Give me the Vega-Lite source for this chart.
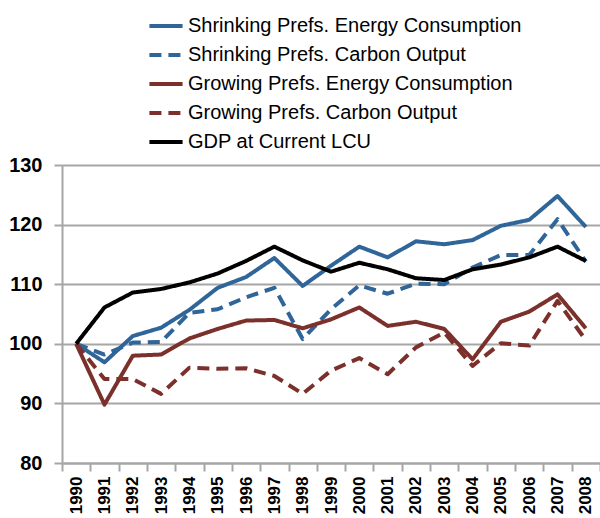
{
  "$schema": "https://vega.github.io/schema/vega-lite/v6.json",
  "autosize": {"type": "none"},
  "padding": {"left": 62, "top": 165, "right": 0, "bottom": 55},
  "width": 538,
  "height": 298,
  "background": "white",
  "config": {
    "view": {"stroke": null},
    "axis": {
      "labelFont": "Liberation Sans",
      "labelFontWeight": "bold",
      "labelColor": "black",
      "domainColor": "#A6A6A6",
      "domainWidth": 2,
      "tickColor": "#A6A6A6",
      "tickWidth": 2,
      "tickSize": 8,
      "gridColor": "#A6A6A6",
      "gridWidth": 2,
      "gridOpacity": 1,
      "title": null
    }
  },
  "data": {"values": [
    {"year": "1990", "series": "Shrinking Prefs. Energy Consumption", "value": 100},
    {"year": "1991", "series": "Shrinking Prefs. Energy Consumption", "value": 96.9},
    {"year": "1992", "series": "Shrinking Prefs. Energy Consumption", "value": 101.3},
    {"year": "1993", "series": "Shrinking Prefs. Energy Consumption", "value": 102.7},
    {"year": "1994", "series": "Shrinking Prefs. Energy Consumption", "value": 105.7},
    {"year": "1995", "series": "Shrinking Prefs. Energy Consumption", "value": 109.4},
    {"year": "1996", "series": "Shrinking Prefs. Energy Consumption", "value": 111.2},
    {"year": "1997", "series": "Shrinking Prefs. Energy Consumption", "value": 114.4},
    {"year": "1998", "series": "Shrinking Prefs. Energy Consumption", "value": 109.7},
    {"year": "1999", "series": "Shrinking Prefs. Energy Consumption", "value": 113.1},
    {"year": "2000", "series": "Shrinking Prefs. Energy Consumption", "value": 116.3},
    {"year": "2001", "series": "Shrinking Prefs. Energy Consumption", "value": 114.5},
    {"year": "2002", "series": "Shrinking Prefs. Energy Consumption", "value": 117.2},
    {"year": "2003", "series": "Shrinking Prefs. Energy Consumption", "value": 116.7},
    {"year": "2004", "series": "Shrinking Prefs. Energy Consumption", "value": 117.4},
    {"year": "2005", "series": "Shrinking Prefs. Energy Consumption", "value": 119.8},
    {"year": "2006", "series": "Shrinking Prefs. Energy Consumption", "value": 120.8},
    {"year": "2007", "series": "Shrinking Prefs. Energy Consumption", "value": 124.8},
    {"year": "2008", "series": "Shrinking Prefs. Energy Consumption", "value": 119.6},
    {"year": "1990", "series": "Shrinking Prefs. Carbon Output", "value": 100},
    {"year": "1991", "series": "Shrinking Prefs. Carbon Output", "value": 98.2},
    {"year": "1992", "series": "Shrinking Prefs. Carbon Output", "value": 100.2},
    {"year": "1993", "series": "Shrinking Prefs. Carbon Output", "value": 100.3},
    {"year": "1994", "series": "Shrinking Prefs. Carbon Output", "value": 105.2},
    {"year": "1995", "series": "Shrinking Prefs. Carbon Output", "value": 105.8},
    {"year": "1996", "series": "Shrinking Prefs. Carbon Output", "value": 107.8},
    {"year": "1997", "series": "Shrinking Prefs. Carbon Output", "value": 109.4},
    {"year": "1998", "series": "Shrinking Prefs. Carbon Output", "value": 100.8},
    {"year": "1999", "series": "Shrinking Prefs. Carbon Output", "value": 105.8},
    {"year": "2000", "series": "Shrinking Prefs. Carbon Output", "value": 109.8},
    {"year": "2001", "series": "Shrinking Prefs. Carbon Output", "value": 108.4},
    {"year": "2002", "series": "Shrinking Prefs. Carbon Output", "value": 110.1},
    {"year": "2003", "series": "Shrinking Prefs. Carbon Output", "value": 110.0},
    {"year": "2004", "series": "Shrinking Prefs. Carbon Output", "value": 112.8},
    {"year": "2005", "series": "Shrinking Prefs. Carbon Output", "value": 114.9},
    {"year": "2006", "series": "Shrinking Prefs. Carbon Output", "value": 114.9},
    {"year": "2007", "series": "Shrinking Prefs. Carbon Output", "value": 120.9},
    {"year": "2008", "series": "Shrinking Prefs. Carbon Output", "value": 113.8},
    {"year": "1990", "series": "Growing Prefs. Energy Consumption", "value": 100},
    {"year": "1991", "series": "Growing Prefs. Energy Consumption", "value": 89.8},
    {"year": "1992", "series": "Growing Prefs. Energy Consumption", "value": 98.0},
    {"year": "1993", "series": "Growing Prefs. Energy Consumption", "value": 98.2},
    {"year": "1994", "series": "Growing Prefs. Energy Consumption", "value": 100.9},
    {"year": "1995", "series": "Growing Prefs. Energy Consumption", "value": 102.5},
    {"year": "1996", "series": "Growing Prefs. Energy Consumption", "value": 103.9},
    {"year": "1997", "series": "Growing Prefs. Energy Consumption", "value": 104.0},
    {"year": "1998", "series": "Growing Prefs. Energy Consumption", "value": 102.6},
    {"year": "1999", "series": "Growing Prefs. Energy Consumption", "value": 104.1},
    {"year": "2000", "series": "Growing Prefs. Energy Consumption", "value": 106.1},
    {"year": "2001", "series": "Growing Prefs. Energy Consumption", "value": 103.0},
    {"year": "2002", "series": "Growing Prefs. Energy Consumption", "value": 103.7},
    {"year": "2003", "series": "Growing Prefs. Energy Consumption", "value": 102.5},
    {"year": "2004", "series": "Growing Prefs. Energy Consumption", "value": 97.4},
    {"year": "2005", "series": "Growing Prefs. Energy Consumption", "value": 103.7},
    {"year": "2006", "series": "Growing Prefs. Energy Consumption", "value": 105.4},
    {"year": "2007", "series": "Growing Prefs. Energy Consumption", "value": 108.3},
    {"year": "2008", "series": "Growing Prefs. Energy Consumption", "value": 102.6},
    {"year": "1990", "series": "Growing Prefs. Carbon Output", "value": 100},
    {"year": "1991", "series": "Growing Prefs. Carbon Output", "value": 94.1},
    {"year": "1992", "series": "Growing Prefs. Carbon Output", "value": 94.1},
    {"year": "1993", "series": "Growing Prefs. Carbon Output", "value": 91.6},
    {"year": "1994", "series": "Growing Prefs. Carbon Output", "value": 96.0},
    {"year": "1995", "series": "Growing Prefs. Carbon Output", "value": 95.8},
    {"year": "1996", "series": "Growing Prefs. Carbon Output", "value": 95.9},
    {"year": "1997", "series": "Growing Prefs. Carbon Output", "value": 94.6},
    {"year": "1998", "series": "Growing Prefs. Carbon Output", "value": 91.6},
    {"year": "1999", "series": "Growing Prefs. Carbon Output", "value": 95.5},
    {"year": "2000", "series": "Growing Prefs. Carbon Output", "value": 97.6},
    {"year": "2001", "series": "Growing Prefs. Carbon Output", "value": 94.9},
    {"year": "2002", "series": "Growing Prefs. Carbon Output", "value": 99.4},
    {"year": "2003", "series": "Growing Prefs. Carbon Output", "value": 101.9},
    {"year": "2004", "series": "Growing Prefs. Carbon Output", "value": 96.3},
    {"year": "2005", "series": "Growing Prefs. Carbon Output", "value": 100.1},
    {"year": "2006", "series": "Growing Prefs. Carbon Output", "value": 99.7},
    {"year": "2007", "series": "Growing Prefs. Carbon Output", "value": 107.2},
    {"year": "2008", "series": "Growing Prefs. Carbon Output", "value": 100.6},
    {"year": "1990", "series": "GDP at Current LCU", "value": 100},
    {"year": "1991", "series": "GDP at Current LCU", "value": 106.1},
    {"year": "1992", "series": "GDP at Current LCU", "value": 108.6},
    {"year": "1993", "series": "GDP at Current LCU", "value": 109.2},
    {"year": "1994", "series": "GDP at Current LCU", "value": 110.3},
    {"year": "1995", "series": "GDP at Current LCU", "value": 111.8},
    {"year": "1996", "series": "GDP at Current LCU", "value": 113.9},
    {"year": "1997", "series": "GDP at Current LCU", "value": 116.3},
    {"year": "1998", "series": "GDP at Current LCU", "value": 114.0},
    {"year": "1999", "series": "GDP at Current LCU", "value": 112.1},
    {"year": "2000", "series": "GDP at Current LCU", "value": 113.6},
    {"year": "2001", "series": "GDP at Current LCU", "value": 112.5},
    {"year": "2002", "series": "GDP at Current LCU", "value": 111.0},
    {"year": "2003", "series": "GDP at Current LCU", "value": 110.7},
    {"year": "2004", "series": "GDP at Current LCU", "value": 112.5},
    {"year": "2005", "series": "GDP at Current LCU", "value": 113.3},
    {"year": "2006", "series": "GDP at Current LCU", "value": 114.5},
    {"year": "2007", "series": "GDP at Current LCU", "value": 116.3},
    {"year": "2008", "series": "GDP at Current LCU", "value": 113.9}
  ]},
  "mark": {"type": "line", "strokeCap": "butt", "strokeJoin": "round"},
  "encoding": {
    "x": {
      "field": "year",
      "type": "ordinal",
      "bandPosition": 0.5,
      "scale": {"type": "band", "paddingInner": 0, "paddingOuter": 0},
      "axis": {
        "labelAngle": -90,
        "labelFontSize": 17,
        "labelPadding": 5,
        "tickBand": "extent",
        "grid": false
      }
    },
    "y": {
      "field": "value",
      "type": "quantitative",
      "scale": {"domain": [80, 130], "nice": false, "zero": false},
      "axis": {
        "values": [80, 90, 100, 110, 120, 130],
        "labelFontSize": 20,
        "labelPadding": 12,
        "grid": true
      }
    },
    "color": {
      "field": "series",
      "type": "nominal",
      "scale": {
        "domain": ["Shrinking Prefs. Energy Consumption", "Shrinking Prefs. Carbon Output", "Growing Prefs. Energy Consumption", "Growing Prefs. Carbon Output", "GDP at Current LCU"],
        "range": ["#2F6598", "#2F6598", "#7B302C", "#7B302C", "#000000"]
      },
      "legend": {
        "orient": "none",
        "legendX": 85,
        "legendY": -158,
        "direction": "vertical",
        "title": null,
        "padding": 0,
        "symbolType": "stroke",
        "symbolSize": 1100,
        "symbolStrokeWidth": 4,
        "labelFont": "Liberation Sans",
        "labelFontSize": 20,
        "labelColor": "black",
        "labelOffset": 3,
        "rowPadding": 0,
        "labelLimit": 500
      }
    },
    "strokeDash": {
      "field": "series",
      "type": "nominal",
      "scale": {
        "domain": ["Shrinking Prefs. Energy Consumption", "Shrinking Prefs. Carbon Output", "Growing Prefs. Energy Consumption", "Growing Prefs. Carbon Output", "GDP at Current LCU"],
        "range": [[1, 0], [12, 7], [1, 0], [12, 7], [1, 0]]
      }
    },
    "strokeWidth": {
      "field": "series",
      "type": "nominal",
      "scale": {
        "domain": ["Shrinking Prefs. Energy Consumption", "Shrinking Prefs. Carbon Output", "Growing Prefs. Energy Consumption", "Growing Prefs. Carbon Output", "GDP at Current LCU"],
        "range": [4, 4, 4, 4, 5]
      },
      "legend": null
    }
  }
}
